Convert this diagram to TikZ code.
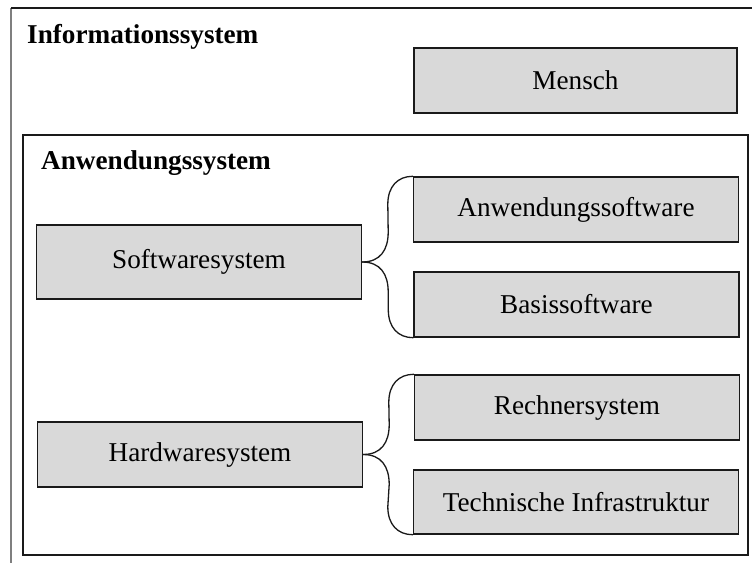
\documentclass[tikz,border=0pt]{standalone}
\usepackage{fontspec}
\setmainfont{Liberation Serif}
\usetikzlibrary{calc}
\definecolor{boxgray}{HTML}{D9D9D9}
\definecolor{edge}{HTML}{1A1A1A}
\definecolor{frameside}{HTML}{7F7F7F}
\tikzset{
  sysbox/.style={draw=edge, fill=boxgray, line width=1.4pt, inner sep=0pt,
    minimum width=325pt, minimum height=65pt,
    font=\fontsize{27.2}{32}\selectfont},
  heading/.style={anchor=base west, inner sep=0pt,
    font=\fontsize{27.2}{32}\selectfont\bfseries},
  brace/.style={draw=edge, line width=1.3pt}
}
\begin{document}
\begin{tikzpicture}[x=1pt, y=-1pt]
  \useasboundingbox (0,0) rectangle (752,563);

  % outer frame: Informationssystem
  \draw[frameside, line width=1.2pt] (11,8) -- (11,563);
  \draw[edge, line width=1.6pt] (11,8) -- (752,8);
  \node[heading] (infosys) at (27,43) {Informationssystem};

  \node[sysbox, minimum width=323pt] (mensch) at (575.5,80.5) {Mensch};

  % inner frame: Anwendungssystem
  \draw[edge, line width=1.6pt] (23,135) rectangle (748,555);
  \node[heading] (anwsys) at (41,169) {Anwendungssystem};

  % software branch
  \node[sysbox, minimum height=74pt] (sw) at (199,262) {Softwaresystem};
  \node[sysbox] (as) at (576,209.5) {Anwendungssoftware};
  \node[sysbox] (bs) at (576.5,304.5) {Basissoftware};

  % hardware branch
  \node[sysbox] (hw) at (200,454.5) {Hardwaresystem};
  \node[sysbox] (rs) at (577,407.5) {Rechnersystem};
  \node[sysbox, minimum height=64pt] (ti) at (576,502) {Technische Infrastruktur};

  % curly braces joining each system to its parts
  \foreach \src/\up/\down in {sw/as/bs, hw/rs/ti} {
    \draw[brace] (\src.east) .. controls +(18,0) and +(0,18) ..
      ($(\src.east)+(26,-30)$) -- ($(\up.north west)+(-25,28)$)
      .. controls +(0,-18) and +(-15,0) .. (\up.north west);
    \draw[brace] (\src.east) .. controls +(18,0) and +(0,-18) ..
      ($(\src.east)+(26,30)$) -- ($(\down.south west)+(-25,-28)$)
      .. controls +(0,18) and +(-15,0) .. (\down.south west);
  }
\end{tikzpicture}
\end{document}
